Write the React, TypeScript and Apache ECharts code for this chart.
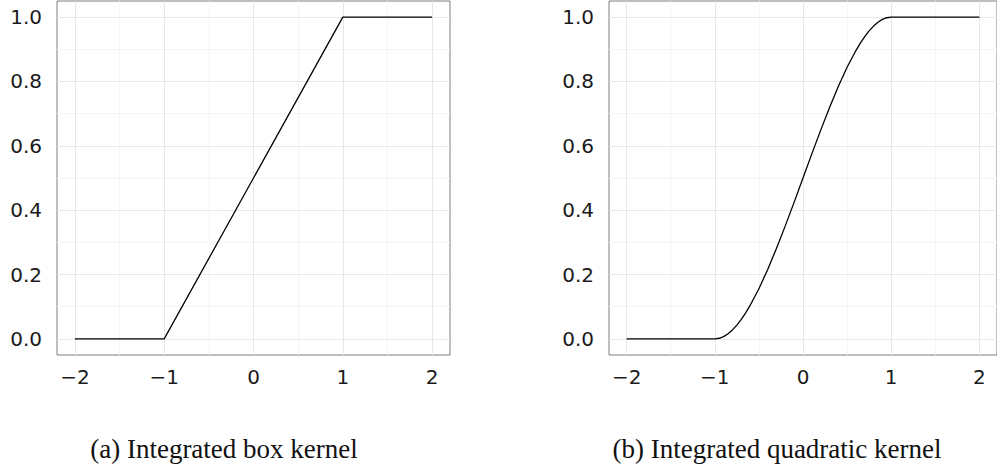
import React, { useEffect, useRef } from "react";
import * as echarts from "echarts";

const X_TICKS = [-2, -1, 0, 1, 2];
const X_MINOR = [-1.5, -0.5, 0.5, 1.5];
const Y_TICKS = [0, 0.2, 0.4, 0.6, 0.8, 1.0];
const Y_MINOR = [0.1, 0.3, 0.5, 0.7, 0.9];

const boxX = [-2, -1, 1, 2];
const boxY = [0, 0, 1, 1];

const quadX = [-2, -1, -0.95, -0.9, -0.85, -0.8, -0.75, -0.7, -0.65, -0.6, -0.5, -0.4, -0.3, -0.2, -0.1, 0, 0.1, 0.2, 0.3, 0.4, 0.5, 0.6, 0.65, 0.7, 0.75, 0.8, 0.85, 0.9, 0.95, 1, 2];
const quadY = [0, 0, 0.002, 0.007, 0.016, 0.028, 0.043, 0.061, 0.081, 0.104, 0.156, 0.216, 0.282, 0.352, 0.425, 0.5, 0.575, 0.648, 0.718, 0.784, 0.844, 0.896, 0.919, 0.939, 0.957, 0.972, 0.984, 0.993, 0.998, 1, 1];

const captions = ["(a) Integrated box kernel", "(b) Integrated quadratic kernel"];

const LABEL_FONT = "'DejaVu Sans', 'Liberation Sans', sans-serif";

function pairs(xs: number[], ys: number[]) {
  return xs.map((x, i) => [x, ys[i]]);
}

function gridMarkLines() {
  const minor = { color: "#f4f4f4", width: 1, type: "solid" };
  const major = { color: "#e8e8e8", width: 1, type: "solid" };
  const data: any[] = [];
  X_MINOR.forEach((v) => data.push({ xAxis: v, lineStyle: minor }));
  Y_MINOR.forEach((v) => data.push({ yAxis: v, lineStyle: minor }));
  X_TICKS.forEach((v) => data.push({ xAxis: v, lineStyle: major }));
  Y_TICKS.forEach((v) => data.push({ yAxis: v, lineStyle: major }));
  return {
    silent: true,
    symbol: ["none", "none"],
    label: { show: false },
    emphasis: { disabled: true },
    data,
  };
}

export default function App() {
  const ref = useRef<HTMLDivElement>(null);
  useEffect(() => {
    if (!ref.current) return;
    const chart = echarts.init(ref.current, undefined, { renderer: "svg" });
    const grids = [
      { left: 57, top: 1, width: 393, height: 354 },
      { left: 609, top: 1, width: 394, height: 354 },
    ];
    const xAxes = grids.map((_, i) => ({
      type: "value",
      gridIndex: i,
      min: -2.2,
      max: 2.2,
      axisLine: { show: false },
      splitLine: { show: false },
      axisTick: {
        show: true,
        inside: false,
        length: 5,
        customValues: X_TICKS,
        lineStyle: { color: "#333", width: 1 },
      },
      axisLabel: {
        customValues: X_TICKS,
        margin: 12,
        fontSize: 20,
        fontFamily: LABEL_FONT,
        color: "#1a1a1a",
        formatter: (v: number) => String(v).replace("-", "\u2212"),
      },
    }));
    const yAxes = grids.map((_, i) => ({
      type: "value",
      gridIndex: i,
      min: -0.05,
      max: 1.05,
      axisLine: { show: false },
      splitLine: { show: false },
      axisTick: {
        show: true,
        inside: false,
        length: 5,
        customValues: Y_TICKS,
        lineStyle: { color: "#333", width: 1 },
      },
      axisLabel: {
        customValues: Y_TICKS,
        margin: 15,
        fontSize: 20,
        fontFamily: LABEL_FONT,
        color: "#1a1a1a",
        formatter: (v: number) => v.toFixed(1),
      },
    }));
    const curves = [pairs(boxX, boxY), pairs(quadX, quadY)];
    const series: any[] = [];
    curves.forEach((d, i) => {
      series.push({
        type: "line",
        xAxisIndex: i,
        yAxisIndex: i,
        data: d,
        z: 1,
        silent: true,
        showSymbol: false,
        lineStyle: { opacity: 0, width: 0 },
        markLine: gridMarkLines(),
      });
      series.push({
        type: "line",
        xAxisIndex: i,
        yAxisIndex: i,
        data: d,
        z: 5,
        showSymbol: false,
        lineStyle: { color: "#000", width: 1.3 },
      });
    });
    chart.setOption({
      animation: false,
      backgroundColor: "#fff",
      grid: grids.map((g) => ({
        ...g,
        show: true,
        backgroundColor: "#fff",
        borderColor: "#7f7f7f",
        borderWidth: 1,
      })),
      xAxis: xAxes,
      yAxis: yAxes,
      series,
      graphic: [
        {
          type: "text",
          x: 224,
          y: 449,
          style: {
            text: captions[0],
            font: "27px 'Liberation Serif', 'Times New Roman', serif",
            fill: "#111",
            textAlign: "center",
            textVerticalAlign: "middle",
          },
        },
        {
          type: "text",
          x: 777,
          y: 449,
          style: {
            text: captions[1],
            font: "27px 'Liberation Serif', 'Times New Roman', serif",
            fill: "#111",
            textAlign: "center",
            textVerticalAlign: "middle",
          },
        },
      ],
    });
    return () => chart.dispose();
  }, []);
  return (
    <div
      ref={ref}
      style={{ position: "fixed", left: 0, top: 0, width: 997, height: 470 }}
    />
  );
}
